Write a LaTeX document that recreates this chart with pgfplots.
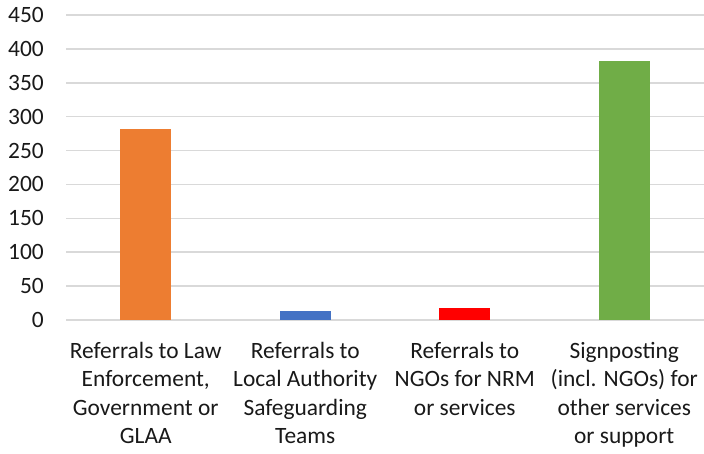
\documentclass[border=0pt]{standalone}
\usepackage{pgfplots}
\pgfplotsset{compat=1.18}
\usepackage{fontspec}
\setmainfont{Carlito}
\definecolor{cOrange}{HTML}{ED7D31}
\definecolor{cBlue}{HTML}{4472C4}
\definecolor{cRed}{HTML}{FF0000}
\definecolor{cGreen}{HTML}{70AD47}
\definecolor{gridc}{HTML}{D9D9D9}
\begin{document}
\begin{tikzpicture}
\begin{axis}[
  scale only axis,
  width=638bp, height=305bp,
  xmin=-0.5, xmax=3.5, ymin=0, ymax=450,
  ytick={0,50,...,450},
  xtick={0,1,2,3},
  xticklabels={{Referrals to Law\\Enforcement,\\Government or\\GLAA},
               {Referrals to\\Local Authority\\Safeguarding\\Teams},
               {Referrals to\\NGOs for NRM\\or services},
               {Signposting\\(incl. NGOs) for\\other services\\or support}},
  ymajorgrids,
  grid style={draw=gridc, line width=1.5bp},
  axis line style={draw=none},
  major tick length=0pt,
  /pgf/number format/assume math mode=true,
  yticklabel style={font=\fontsize{23.5}{25}\selectfont, anchor=east, inner sep=0pt, xshift=-22bp, text=black!90},
  xticklabel style={font=\fontsize{23.5}{28.5}\selectfont, align=center, anchor=north, inner sep=0pt, yshift=-22bp, text=black!90},
  ybar, bar width=51bp, bar shift=0pt,
  clip=false,
]
\addplot[fill=cOrange, draw=none] coordinates {(0,282)};
\addplot[fill=cBlue, draw=none] coordinates {(1,14)};
\addplot[fill=cRed, draw=none] coordinates {(2,18)};
\addplot[fill=cGreen, draw=none] coordinates {(3,382)};
\end{axis}
\pgfresetboundingbox
\path (-66bp,-134bp) rectangle (638bp,320bp);
\end{tikzpicture}
\end{document}
